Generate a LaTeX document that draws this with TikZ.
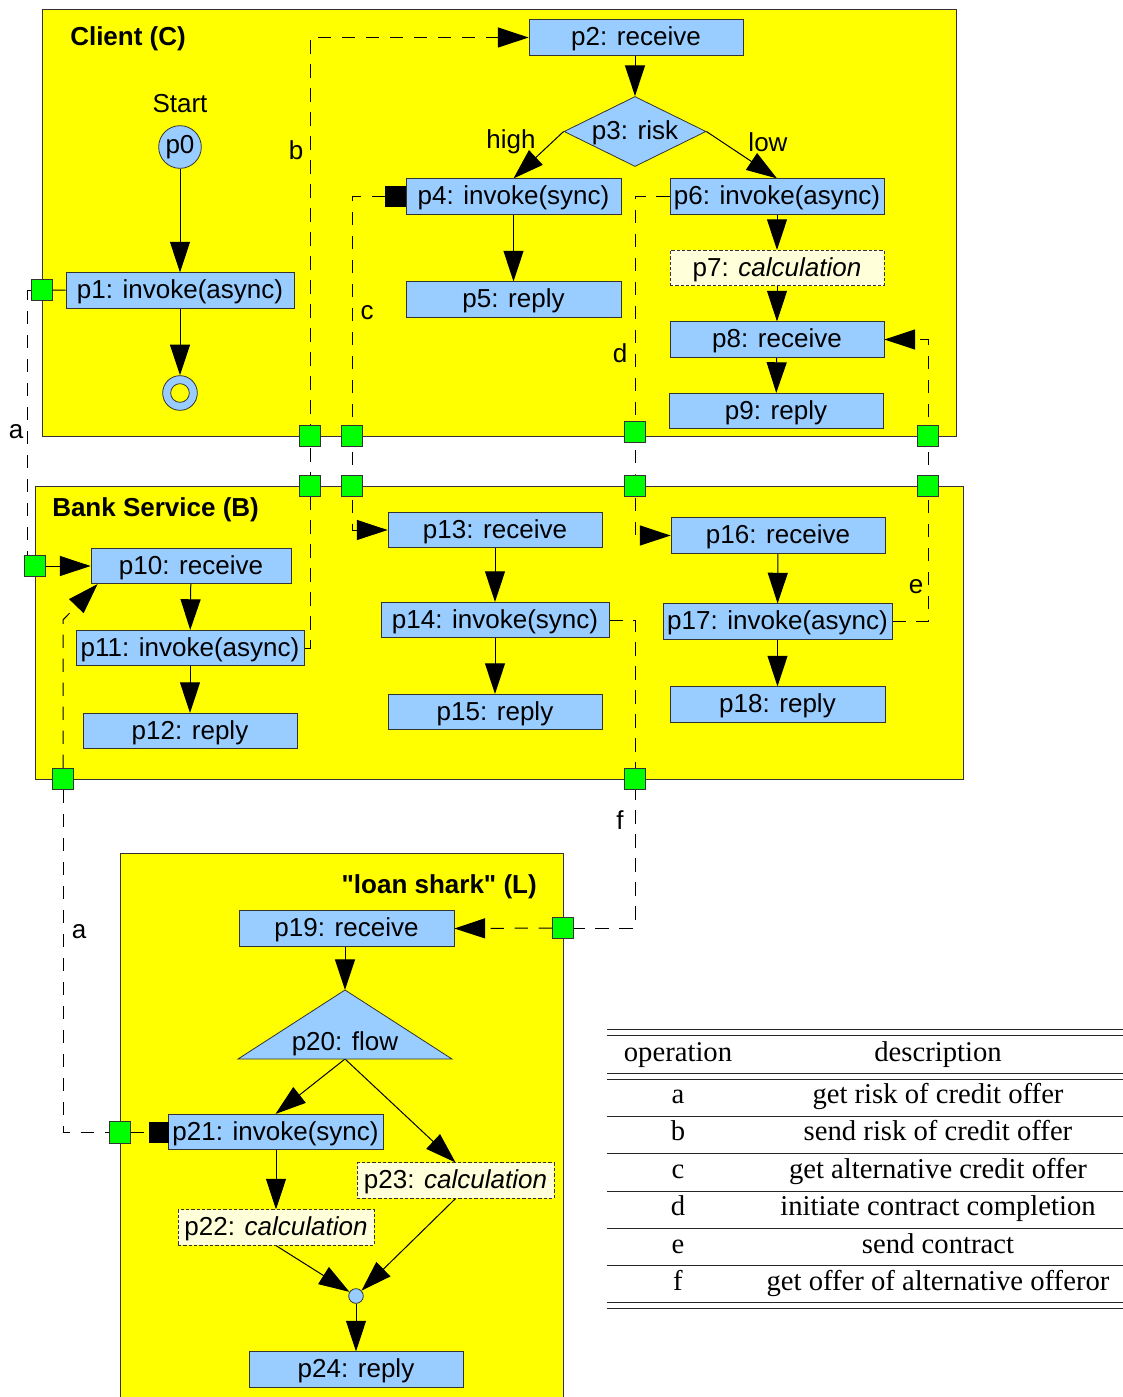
\documentclass[tikz,border=0pt]{standalone}
\usepackage{fontspec}
\setmainfont{Liberation Sans}
\newfontfamily\tabfont{Liberation Serif}
\usetikzlibrary{arrows.meta,shapes.geometric,calc}

\definecolor{pool}{HTML}{FFFF00}
\definecolor{actblue}{HTML}{99CCFF}
\definecolor{calcfill}{HTML}{FFFFD9}
\definecolor{portgreen}{HTML}{00FF00}
\definecolor{edge}{HTML}{333333}

% straight double quote, taken directly from the font
\newcommand\dq{\XeTeXglyph\XeTeXcharglyph"22\relax}

\pgfdeclarelayer{back}
\pgfdeclarelayer{wires}
\pgfsetlayers{back,wires,main}

\tikzset{
  act/.style={draw=edge, fill=actblue, line width=0.6pt, inner sep=0pt,
    minimum width=#1*0.75pt, minimum height=26.5pt,
    text height=15pt, text depth=3pt},
  calcbox/.style={act=#1, fill=calcfill, dash pattern=on 2.5pt off 1.5pt},
  port/.style={draw=edge, fill=portgreen, line width=0.6pt, inner sep=0pt,
    minimum size=16pt},
  blk/.style={fill=black, inner sep=0pt, minimum size=15.5pt},
  poolbox/.style={fill=pool, draw=edge, line width=0.6pt},
  flow/.style={line width=0.75pt, -{Triangle[length=23pt,width=15pt]}},
  msg/.style={line width=0.75pt, dash pattern=on 10pt off 8pt},
  msgarr/.style={msg, -{Triangle[length=23pt,width=15pt]}},
  lbl/.style={inner sep=0pt, yshift=-1.5pt},
  title/.style={inner sep=0pt, yshift=-1.5pt, font=\fontsize{19.5}{22}\selectfont\bfseries},
  rule/.style={line width=0.7pt, draw=black!85},
  cell/.style={inner sep=0pt, anchor=base, font=\tabfont\fontsize{21.5}{24}\selectfont}
}

\begin{document}
\begin{tikzpicture}[x=0.75pt, y=-0.75pt, font=\fontsize{19.5}{22}\selectfont]
\useasboundingbox (0,0) rectangle (1123,1397);

% participant areas
\begin{pgfonlayer}{back}
  \draw[poolbox] (42,9) rectangle (956,436);
  \draw[poolbox] (35,486) rectangle (963,779);
  \fill[pool] (120,853) rectangle (563,1397);
  \draw[edge, line width=0.6pt] (120,1397) |- (563,853) -- (563,1397);
\end{pgfonlayer}

\node[title, anchor=west] (tC) at (70,37) {Client (C)};
\node[title, anchor=west] (tB) at (52,508) {Bank Service (B)};
\node[title, anchor=east] (tL) at (537,885) {\dq loan shark\dq{} (L)};

% ---- Client
\node[lbl] (start) at (180,102) {Start};
\node[circle, draw=edge, fill=actblue, line width=0.6pt, inner sep=0pt, minimum size=32pt] (p0) at (180,147) {p0};
\node[act=228] (p1) at (180,290.5) {p1: invoke(async)};
\node[circle, draw=edge, fill=actblue, line width=0.6pt, inner sep=0pt, minimum size=26pt,
  path picture={\draw[edge, line width=0.6pt, fill=pool] (path picture bounding box.center) circle (7pt);}] (cend) at (180,393) {};
\node[port] (pa1) at (42,290) {};

\node[act=214] (p2) at (636,37.5) {p2: receive};
\node[diamond, draw=edge, fill=actblue, line width=0.6pt, inner sep=0pt,
  minimum width=106.5pt, minimum height=52.5pt, text height=15pt, text depth=3pt] (p3) at (635,131.5) {\makebox[0pt]{p3: risk}};
\node[lbl] (high) at (511,140) {high};
\node[lbl] (low) at (768,140) {low};
\node[act=215] (p4) at (513.5,196.5) {p4: invoke(sync)};
\node[blk] (bq4) at (395.5,196.5) {};
\node[act=215] (p5) at (513.5,299.5) {p5: reply};
\node[act=214] (p6) at (777,196.5) {p6: invoke(async)};
\node[calcbox=214] (p7) at (777,268) {p7: \textit{calculation}};
\node[act=214] (p8) at (777,339.5) {p8: receive};
\node[act=214] (p9) at (776,411) {p9: reply};

% ports on the client border
\node[port] (pb1) at (310,436) {};
\node[port] (pc1) at (352,436) {};
\node[port] (pd1) at (635,432) {};
\node[port] (pe1) at (928,436) {};

% ---- Bank service
\node[port] (pb2) at (310,486) {};
\node[port] (pc2) at (352,486) {};
\node[port] (pd2) at (635,486) {};
\node[port] (pe2) at (928,486) {};
\node[port] (pa2) at (35,566) {};
\node[port] (pa3) at (63,779) {};
\node[port] (pf1) at (635,779) {};

\node[act=200] (p10) at (191,566) {p10: receive};
\node[act=228] (p11) at (190,648) {p11: invoke(async)};
\node[act=214] (p12) at (190,731) {p12: reply};
\node[act=214] (p13) at (495,530) {p13: receive};
\node[act=228] (p14) at (495,620) {p14: invoke(sync)};
\node[act=214] (p15) at (495,712) {p15: reply};
\node[act=214] (p16) at (778,535.5) {p16: receive};
\node[act=229] (p17) at (777.5,621.5) {p17: invoke(async)};
\node[act=215] (p18) at (777.5,704.5) {p18: reply};

% ---- loan shark
\node[port] (pl1) at (120,1132.5) {};
\node[port] (pl2) at (563,928) {};
\node[act=215] (p19) at (346.5,928.5) {p19: receive};
\coordinate (p20top) at (345,990);
\coordinate (p20bot) at (345,1059);
\draw[edge, fill=actblue, line width=0.6pt] (p20top) -- (452,1059) -- (238,1059) -- cycle;
\node[lbl] (p20) at (345,1042) {p20: flow};
\node[act=215] (p21) at (275.5,1132) {p21: invoke(sync)};
\node[blk] (bq21) at (159,1132.5) {};
\node[calcbox=196] (p22) at (276,1227.5) {p22: \textit{calculation}};
\node[calcbox=197] (p23) at (455.5,1180.5) {p23: \textit{calculation}};
\node[circle, draw=edge, fill=actblue, line width=0.6pt, inner sep=0pt, minimum size=11pt] (join) at (356,1296) {};
\node[act=214] (p24) at (356,1369.5) {p24: reply};

% operation labels
\node[lbl] (la1) at (16,430) {a};
\node[lbl] (la2) at (79,930) {a};
\node[lbl] (lb) at (296,148) {b};
\node[lbl] (lc) at (367,311) {c};
\node[lbl] (ld) at (620,351) {d};
\node[lbl] (le) at (916,585) {e};
\node[lbl] (lf) at (620,818) {f};

% ---- connectors
\begin{pgfonlayer}{wires}
  % control flow
  \draw[flow] (p0) -- (p1);
  \draw[flow] (p1) -- (cend);
  \draw[flow] (p2.south -| p3.north) -- (p3.north);
  \draw[flow] (p3.west) -- (p4.north);
  \draw[flow] (p3.east) -- (p6.north);
  \draw[flow] (p4) -- (p5);
  \draw[flow] (p6) -- (p7);
  \draw[flow] (p7) -- (p8);
  \draw[flow] (p8) -- (p9);
  \draw[flow] (p10) -- (p11);
  \draw[flow] (p11) -- (p12);
  \draw[flow] (p13) -- (p14);
  \draw[flow] (p14) -- (p15);
  \draw[flow] (p16) -- (p17);
  \draw[flow] (p17) -- (p18);
  \draw[flow] (p19.south -| p20top) -- (p20top);
  \draw[flow] (p20bot) -- (p21.north);
  \draw[flow] (p20bot) -- (p23.north);
  \draw[flow] (p21.south -| p22.north) -- (p22.north);
  \draw[flow] (p22.south) -- (join);
  \draw[flow] (p23.south) -- (join);
  \draw[flow] (join) -- (p24);

  % port attachments
  \draw[line width=0.75pt] (pa1) -- (p1);
  \draw[flow] (pa2) -- (p10);
  \draw[msg] (pl1) -- (bq21);

  % message exchanges
  \draw[msg] (pa1.west) -| ($(pa2.north west)+(4,0)$);
  \draw[msg] (pa3.south) |- (pl1.west);
  \draw[msgarr] (pa3.north) -- ($(pa3.north)+(0,-148)$) -- ($(p10.south west)+(7,0)$);
  \draw[msgarr] (p11.east) -| (pb1.center) |- (p2.west);
  \draw[msgarr] (bq4.west) -| (pc2.center) |- (p13.west);
  \draw[msgarr] (p6.west) -| (pd2.center) |- (p16.west);
  \draw[msgarr] (p17.east) -| (pe1.center) |- (p8.east);
  \draw[msg] (p14.east) -| (pf1.center) |- (pl2.east);
  \draw[msgarr] (pl2.west) -- (p19.east);
\end{pgfonlayer}

% ---- operations table
\draw[rule] (607,1029) -- (1123,1029);
\draw[rule] (607,1035) -- (1123,1035);
\draw[rule] (607,1073) -- (1123,1073);
\draw[rule] (607,1079) -- (1123,1079);
\draw[rule] (607,1116.5) -- (1123,1116.5);
\draw[rule] (607,1153.5) -- (1123,1153.5);
\draw[rule] (607,1191) -- (1123,1191);
\draw[rule] (607,1228) -- (1123,1228);
\draw[rule] (607,1265) -- (1123,1265);
\draw[rule] (607,1302.5) -- (1123,1302.5);
\draw[rule] (607,1308.5) -- (1123,1308.5);

\node[cell] (hop) at (678,1061.5) {operation};
\node[cell] (hde) at (938,1061.5) {description};
\node[cell] (oa) at (678,1103.3) {a};
\node[cell] (da) at (938,1103.3) {get risk of credit offer};
\node[cell] (ob) at (678,1140.7) {b};
\node[cell] (db) at (938,1140.7) {send risk of credit offer};
\node[cell] (oc) at (678,1178.2) {c};
\node[cell] (dc) at (938,1178.2) {get alternative credit offer};
\node[cell] (od) at (678,1215.6) {d};
\node[cell] (dd) at (938,1215.6) {initiate contract completion};
\node[cell] (oe) at (678,1253) {e};
\node[cell] (de) at (938,1253) {send contract};
\node[cell] (of) at (678,1290.4) {f};
\node[cell] (df) at (938,1290.4) {get offer of alternative offeror};
\end{tikzpicture}
\end{document}
